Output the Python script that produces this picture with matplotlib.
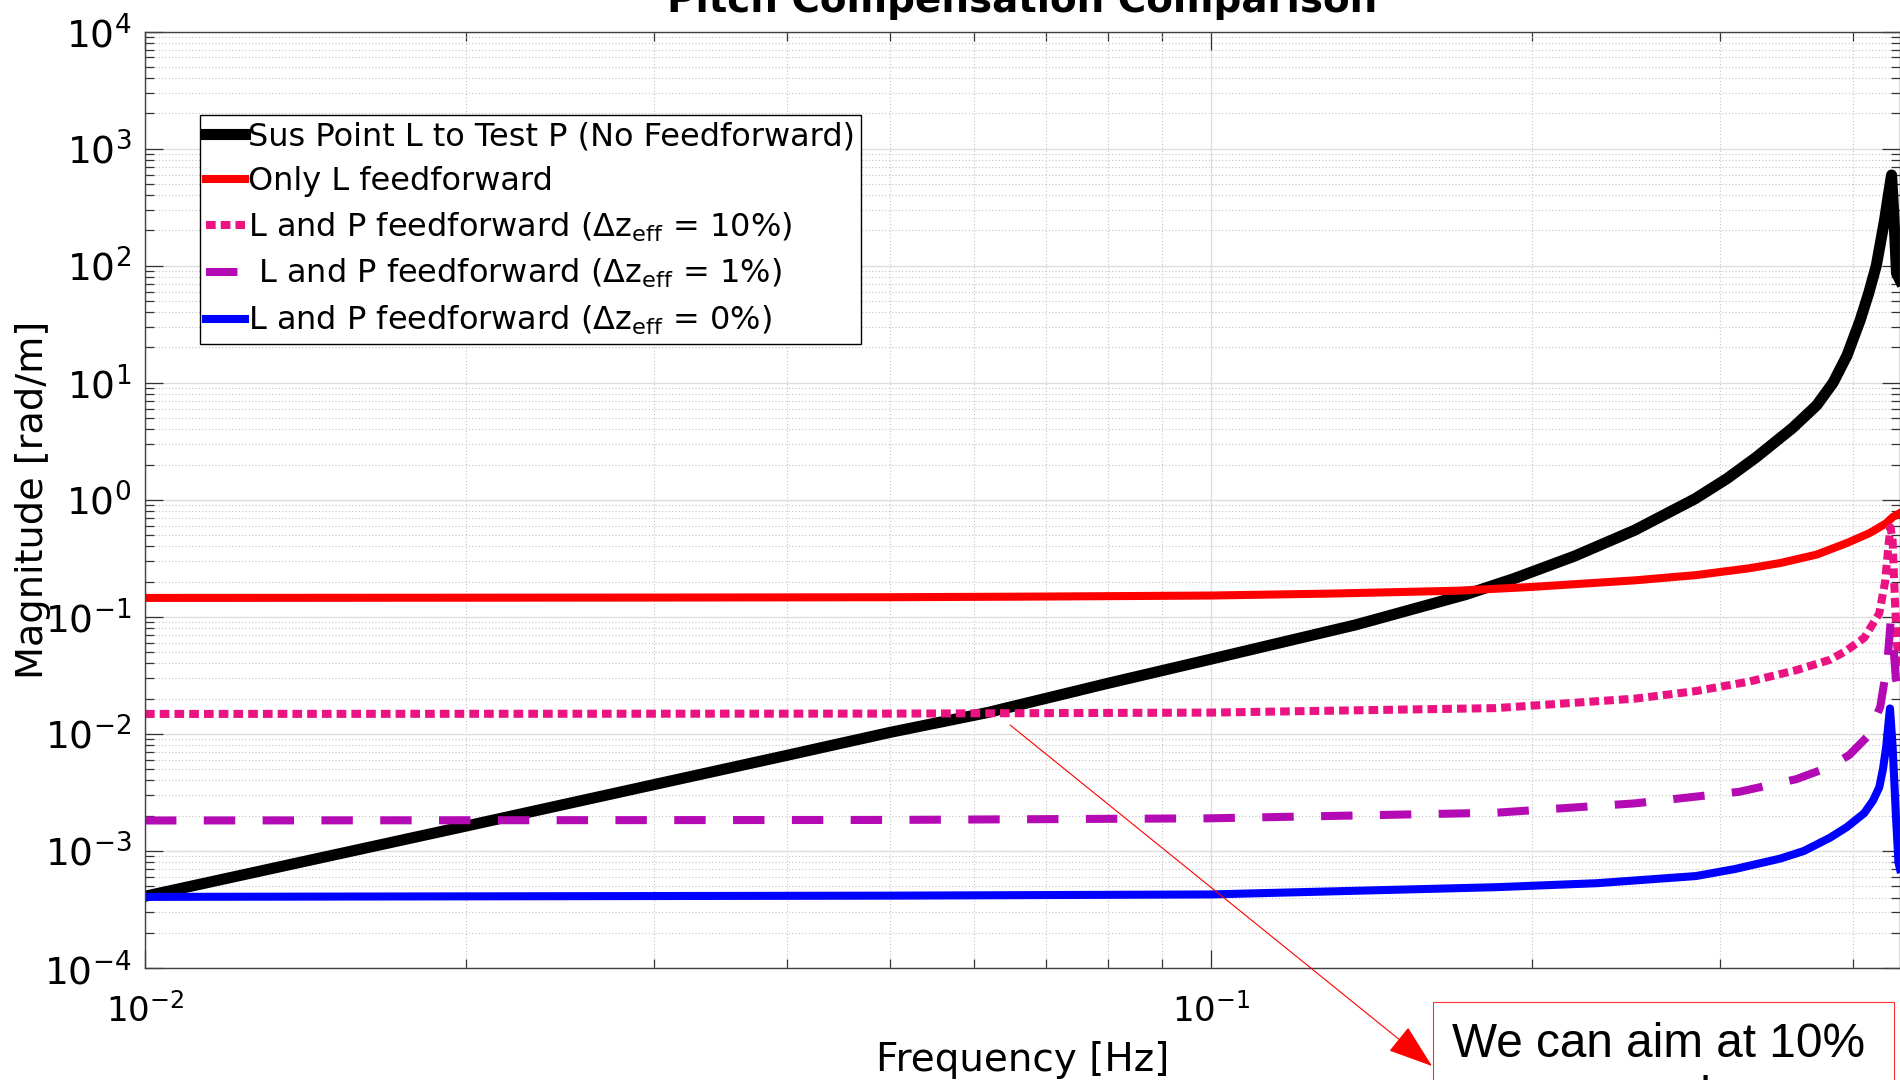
import numpy as np
import matplotlib
matplotlib.use("Agg")
import matplotlib.pyplot as plt
from matplotlib.ticker import LogLocator, NullFormatter, FixedLocator
from matplotlib.patches import Rectangle

plt.rcParams["font.family"] = ["DejaVu Sans"]
plt.rcParams["mathtext.fontset"] = "dejavusans"

# values (frequency in Hz, magnitude in rad/m)
f_black = [0.01, 0.02, 0.03, 0.04, 0.05, 0.0617, 0.08, 0.1, 0.1368, 0.1734,
           0.1924, 0.2193, 0.2498, 0.2846, 0.305, 0.3246, 0.3512, 0.370, 0.3834,
           0.395, 0.4064, 0.4140, 0.4209, 0.4285, 0.432, 0.435, 0.4372,
           0.4397, 0.443]
m_black = [4.1e-4, 1.63e-3, 3.68e-3, 6.55e-3, 0.0103, 0.0152, 0.027, 0.0435,
           0.0855, 0.155, 0.212, 0.33, 0.55, 1.02, 1.52, 2.3, 4.1, 6.4, 10.0,
           17.0, 34.0, 58.0, 100.0, 245.0, 400.0, 594.0, 260.0, 86.0, 75.0]

f_red = [0.01, 0.03, 0.05, 0.07, 0.1, 0.13, 0.17, 0.2, 0.25, 0.285, 0.32,
         0.342, 0.37, 0.395, 0.415, 0.43, 0.436, 0.443]
m_red = [0.145, 0.146, 0.147, 0.149, 0.152, 0.158, 0.167, 0.18, 0.205, 0.227,
         0.26, 0.288, 0.34, 0.427, 0.52, 0.63, 0.71, 0.77]

f_pink = [0.01, 0.05, 0.1, 0.185, 0.25, 0.285, 0.32, 0.354, 0.381, 0.394,
          0.41, 0.4236, 0.429, 0.432, 0.434, 0.436, 0.438, 0.440, 0.443]
m_pink = [0.0148, 0.0149, 0.0152, 0.0166, 0.020, 0.0232, 0.028, 0.035, 0.043,
          0.051, 0.066, 0.107, 0.20, 0.40, 0.58, 0.45, 0.15, 0.06, 0.035]

f_purple = [0.01, 0.05, 0.1, 0.185, 0.25, 0.313, 0.354, 0.38, 0.397, 0.413,
            0.4245, 0.431, 0.434, 0.4365, 0.439, 0.443]
m_purple = [1.82e-3, 1.84e-3, 1.9e-3, 2.12e-3, 2.55e-3, 3.2e-3, 4.1e-3, 5.2e-3,
            6.6e-3, 9.5e-3, 0.017, 0.04, 0.088, 0.06, 0.03, 0.02]

f_blue = [0.01, 0.05, 0.1, 0.185, 0.23, 0.285, 0.31, 0.342, 0.36, 0.381,
          0.395, 0.41, 0.418, 0.4236, 0.427, 0.430, 0.4335, 0.436, 0.439,
          0.4415, 0.443]
m_blue = [4.05e-4, 4.15e-4, 4.25e-4, 4.9e-4, 5.3e-4, 6.1e-4, 7.0e-4, 8.6e-4,
          1.0e-3, 1.3e-3, 1.6e-3, 2.1e-3, 2.7e-3, 3.5e-3, 5.0e-3, 7.8e-3,
          0.0165, 7.8e-3, 2.1e-3, 8e-4, 7e-4]

labels = [
    "Sus Point L to Test P (No Feedforward)",
    "Only L feedforward",
    r"L and P feedforward ($\mathrm{\Delta z}_{\mathrm{eff}}$ = 10%)",
    r" L and P feedforward ($\mathrm{\Delta z}_{\mathrm{eff}}$ = 1%)",
    r"L and P feedforward ($\mathrm{\Delta z}_{\mathrm{eff}}$ = 0%)",
]

W, H = 1900, 1080
fig = plt.figure(figsize=(W / 100, H / 100), dpi=100)
ax = fig.add_axes([145 / W, 112 / H, 1755 / W, 936.5 / H])

ax.plot(f_black, m_black, color="black", lw=8, solid_joinstyle="round", label=labels[0])
ax.plot(f_red, m_red, color="#ff0000", lw=5.8, label=labels[1])
ax.plot(f_pink, m_pink, color="#eb1282", lw=5.8, dashes=(1.2, 0.63),
        dash_capstyle="butt", label=labels[2])
ax.plot(f_purple, m_purple, color="#b40ab4", lw=5.8, dashes=(3.9, 3.4),
        dash_capstyle="butt", label=labels[3])
ax.plot(f_blue, m_blue, color="#0000ff", lw=5.8, solid_joinstyle="round", label=labels[4])

ax.set_xscale("log")
ax.set_yscale("log")
ax.set_xlim(0.01, 0.443)
ax.set_ylim(1e-4, 1e4)

ax.yaxis.set_major_locator(LogLocator(base=10, numticks=20))
ax.yaxis.set_minor_locator(LogLocator(base=10, subs=np.arange(2, 10), numticks=200))
ax.xaxis.set_major_locator(FixedLocator([0.01, 0.1]))
ax.xaxis.set_minor_locator(LogLocator(base=10, subs=np.arange(2, 10), numticks=200))
ax.xaxis.set_minor_formatter(NullFormatter())
ax.yaxis.set_minor_formatter(NullFormatter())

ax.grid(which="major", color="#dedede", lw=1.0, ls="-")
ax.grid(which="minor", color="#c4c4c4", lw=0.8, ls=(0, (1, 2)))
ax.set_axisbelow(True)

ax.tick_params(which="both", direction="in", top=True, right=True,
               color="#333333", width=0.9)
ax.tick_params(which="major", length=13)
ax.tick_params(which="minor", length=6.5)
ax.tick_params(axis="y", which="major", labelsize=27, pad=10)
ax.tick_params(axis="x", which="major", labelsize=24.5, pad=18)
for s in ax.spines.values():
    s.set_color("#404040")
    s.set_linewidth(1.0)

ax.set_title("Pitch Compensation Comparison", fontsize=28, fontweight="bold", pad=14)
ax.set_xlabel("Frequency [Hz]", fontsize=28)
ax.xaxis.set_label_coords(0.5, -0.078)
ax.set_ylabel("Magnitude [rad/m]", fontsize=27.5)
ax.yaxis.set_label_coords(-0.0536, 0.5)

leg = ax.legend(loc="upper left", bbox_to_anchor=(0.0313, 0.9108), borderaxespad=0,
                fontsize=23, handlelength=1.2, handletextpad=0.1, borderpad=0.2,
                labelspacing=0.42, fancybox=False, framealpha=1, edgecolor="black")
leg.get_frame().set_linewidth(1.0)

# annotation box, cut by the bottom edge as in the reference
box = Rectangle((1433 / W, -40 / H), 461 / W, (1080 - 1002 + 40) / H,
                transform=fig.transFigure, facecolor="white", edgecolor="#ff3030",
                lw=0.8, zorder=5)
fig.add_artist(box)
fig.text(1452 / W, (1080 - 1022) / H, "We can aim at 10%\naccuracy, when",
         fontfamily="Liberation Sans", fontsize=34.4, va="top", ha="left",
         linespacing=1.24, zorder=6)

ax.annotate("", xy=(1432, 1080 - 1066), xycoords="figure pixels",
            xytext=(0.0648, 0.0119), textcoords="data",
            arrowprops=dict(arrowstyle="-|>,head_length=1.45,head_width=0.5",
                            mutation_scale=20, color="red", lw=0.8,
                            shrinkA=0, shrinkB=0),
            annotation_clip=False, zorder=7)

fig.savefig("out.png", dpi=100)
